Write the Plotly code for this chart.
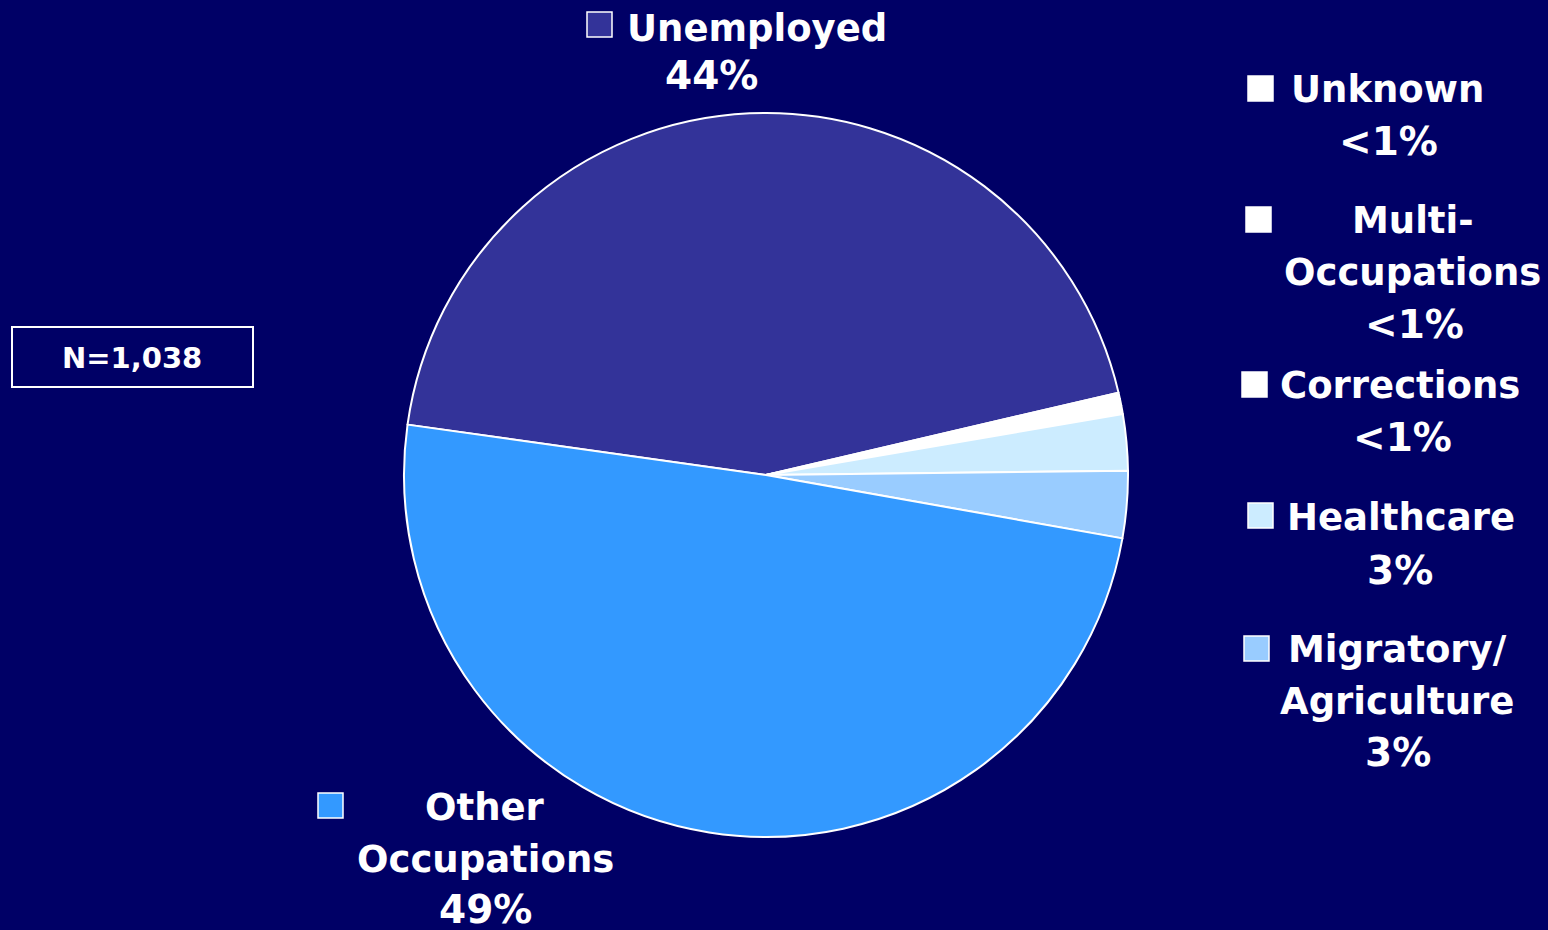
import plotly.graph_objects as go

# Occupation breakdown, N=1,038
categories = ["Unemployed", "Unknown", "Multi-Occupations", "Corrections",
              "Healthcare", "Migratory/Agriculture", "Other Occupations"]
counts = [458, 3, 3, 4, 26, 31, 513]
pct_labels = ["44%", "<1%", "<1%", "<1%", "3%", "3%", "49%"]
label_lines = [["Unemployed"], ["Unknown"], ["Multi-", "Occupations"], ["Corrections"],
               ["Healthcare"], ["Migratory/", "Agriculture"], ["Other", "Occupations"]]
colors = ["#333399", "#FFFFFF", "#FFFFFF", "#FFFFFF", "#CCECFF", "#99CCFF", "#3399FF"]
n_total = "N=1,038"

W, H = 1548, 930
BG = "#000066"
FONT = "DejaVu Sans"

# label block placement (pixels): square box, text line centers
label_pos = {
    "Unemployed": dict(sq=(587, 12), lines=[(757, 29), (711, 75)]),
    "Unknown": dict(sq=(1248, 76), lines=[(1387, 89), (1388, 141)]),
    "Multi-Occupations": dict(sq=(1246, 207), lines=[(1413, 220), (1412, 272), (1414, 324)]),
    "Corrections": dict(sq=(1242, 372), lines=[(1400, 385), (1402, 437)]),
    "Healthcare": dict(sq=(1248, 503), lines=[(1401, 517), (1400, 570)]),
    "Migratory/Agriculture": dict(sq=(1244, 636), lines=[(1397, 649), (1397, 701), (1398, 752)]),
    "Other Occupations": dict(sq=(318, 793), lines=[(485, 807), (485, 859), (485, 909)]),
}

fig = go.Figure()

cx, cy, r = 766, 475, 362
fig.add_trace(go.Pie(
    labels=categories,
    values=counts,
    sort=False,
    direction="clockwise",
    rotation=278,
    textinfo="none",
    hoverinfo="label+value+percent",
    marker=dict(colors=colors, line=dict(color="#FFFFFF", width=2)),
    domain=dict(x=[(cx - r) / W, (cx + r) / W], y=[(H - cy - r) / H, (H - cy + r) / H]),
    showlegend=False,
))

px = lambda x: x / W
py = lambda y: 1 - y / H

shapes = []
annotations = []
for cat, lines, pct, col in zip(categories, label_lines, pct_labels, colors):
    pos = label_pos[cat]
    sx, sy = pos["sq"]
    shapes.append(dict(type="rect", xref="paper", yref="paper",
                       x0=px(sx), x1=px(sx + 25), y0=py(sy + 25), y1=py(sy),
                       fillcolor=col, line=dict(color="#FFFFFF", width=1.5)))
    for i, (text, (tx, ty)) in enumerate(zip(lines + [pct], pos["lines"])):
        is_pct = i == len(lines)
        annotations.append(dict(text="<b>" + text + "</b>", x=px(tx), y=py(ty),
                                xref="paper", yref="paper", xanchor="center", yanchor="middle",
                                showarrow=False,
                                font=dict(family=FONT, size=39 if is_pct else 37, color="#FFFFFF")))

# N box
shapes.append(dict(type="rect", xref="paper", yref="paper",
                   x0=px(12), x1=px(253), y0=py(387), y1=py(327),
                   line=dict(color="#FFFFFF", width=2), fillcolor=BG))
annotations.append(dict(text="<b>" + n_total + "</b>", x=px(132), y=py(358),
                        xref="paper", yref="paper", xanchor="center", yanchor="middle",
                        showarrow=False, font=dict(family=FONT, size=29, color="#FFFFFF")))

fig.update_layout(
    width=W, height=H,
    margin=dict(l=0, r=0, t=0, b=0),
    paper_bgcolor=BG,
    plot_bgcolor=BG,
    shapes=shapes,
    annotations=annotations,
)

fig.write_html("out.html", config={"displayModeBar": False},
               post_script="document.body.style.margin='0';document.body.style.overflow='hidden';")
